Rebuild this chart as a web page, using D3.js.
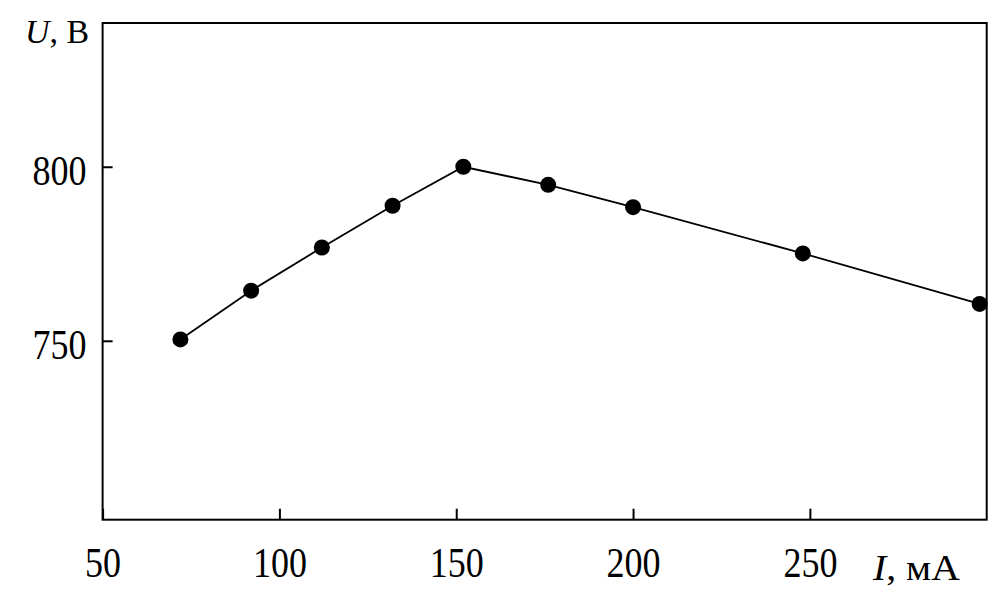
<!DOCTYPE html>
<html>
<head>
<meta charset="utf-8">
<script src="https://cdn.jsdelivr.net/npm/d3@7"></script>
<style>
  html, body { margin: 0; padding: 0; background: #fff; }
  svg { display: block; }
  text { font-family: "Liberation Serif", "Times New Roman", serif; fill: #000; }
</style>
</head>
<body>
<svg id="chart" width="1008" height="597"></svg>
<script>
// Data
const currentMA = [72, 92, 112, 132, 152, 176, 200, 248, 298];
const voltageV  = [750.4, 764.4, 776.8, 788.8, 800.0, 794.8, 788.4, 775.1, 760.6];
const xTicks = [50, 100, 150, 200, 250];
const yTicks = [750, 800];
const xDomain = [50, 300];
const yDomain = [698.6, 841.3];

(function () {
const svg = d3.select("#chart");
const pLeft = 102.6, pRight = 986.7, pTop = 23, pBottom = 519.7;

const x = d3.scaleLinear().domain(xDomain).range([pLeft, pRight]);
const y = d3.scaleLinear().domain(yDomain).range([pBottom, pTop]);

// Frame
svg.append("rect")
  .attr("x", pLeft).attr("y", pTop)
  .attr("width", pRight - pLeft).attr("height", pBottom - pTop)
  .attr("fill", "none").attr("stroke", "#000").attr("stroke-width", 2);

// X axis (inward ticks)
const gx = svg.append("g")
  .attr("transform", `translate(0,${pBottom})`)
  .call(d3.axisBottom(x).tickValues(xTicks).tickSizeInner(-11).tickSizeOuter(0).tickFormat(d3.format("d")));
gx.select(".domain").remove();
gx.selectAll(".tick line").attr("stroke", "#000").attr("stroke-width", 2);
gx.selectAll(".tick text")
  .attr("y", 57.5).attr("dy", 0)
  .attr("font-size", 42)
  .attr("font-family", "Liberation Serif")
  .attr("textLength", d => String(d).length * 18)
  .attr("lengthAdjust", "spacingAndGlyphs");

// Y axis (inward ticks)
const gy = svg.append("g")
  .attr("transform", `translate(${pLeft},0)`)
  .call(d3.axisLeft(y).tickValues(yTicks).tickSizeInner(-10).tickSizeOuter(0).tickFormat(d3.format("d")));
gy.select(".domain").remove();
gy.selectAll(".tick line").attr("stroke", "#000").attr("stroke-width", 2);
gy.selectAll(".tick text")
  .attr("x", -16).attr("y", 17.5).attr("dy", 0)
  .attr("font-size", 42)
  .attr("font-family", "Liberation Serif")
  .attr("textLength", d => String(d).length * 18)
  .attr("lengthAdjust", "spacingAndGlyphs");

// Line
const pts = currentMA.map((d, i) => [d, voltageV[i]]);
svg.append("path")
  .datum(pts)
  .attr("fill", "none").attr("stroke", "#000").attr("stroke-width", 1.8)
  .attr("d", d3.line().x(d => x(d[0])).y(d => y(d[1])));

// Points
svg.selectAll("circle.pt")
  .data(pts).enter().append("circle")
  .attr("class", "pt")
  .attr("cx", d => x(d[0])).attr("cy", d => y(d[1]))
  .attr("r", 8).attr("fill", "#000");

// Axis titles
const ty = svg.append("text")
  .attr("x", 25).attr("y", 43)
  .attr("font-size", 33)
  .attr("textLength", 64).attr("lengthAdjust", "spacingAndGlyphs");
ty.append("tspan").attr("font-style", "italic").text("U");
ty.append("tspan").text(", В");

const tx = svg.append("text")
  .attr("x", 873).attr("y", 580)
  .attr("font-size", 35)
  .attr("textLength", 87).attr("lengthAdjust", "spacingAndGlyphs");
tx.append("tspan").attr("font-style", "italic").text("I");
tx.append("tspan").text(", мА");
})();
</script>
</body>
</html>
